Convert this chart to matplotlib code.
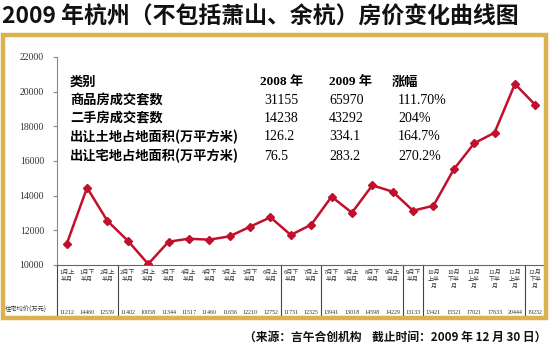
import numpy as np
import matplotlib.pyplot as plt
from matplotlib.patches import Rectangle
from matplotlib.lines import Line2D

plt.rcParams['font.family'] = ['Noto Sans CJK SC', 'DejaVu Sans']

# half-month periods of 2009
periods = ['1月上\n半月', '1月下\n半月', '2月上\n半月', '2月下\n半月', '3月上\n半月', '3月下\n半月',
           '4月上\n半月', '4月下\n半月', '5月上\n半月', '5月下\n半月', '6月上\n半月', '6月下\n半月',
           '7月上\n半月', '7月下\n半月', '8月上\n半月', '8月下\n半月', '9月上\n半月', '9月下\n半月',
           '10月\n上半\n月', '10月\n下半\n月', '11月\n上半\n月', '11月\n下半\n月', '12月\n上半\n月', '12月\n下半\n月']
prices = [11212, 14460, 12539, 11402, 10058, 11344, 11517, 11460, 11656, 12210, 12752, 11731,
          12325, 13941, 13018, 14598, 14229, 13133, 13421, 15521, 17021, 17633, 20444, 19232]
group_ends = [2, 10, 12, 16, 17, 22]   # last index of each box in the table
yticks = [10000, 12000, 14000, 16000, 18000, 20000, 22000]

# summary table in the upper left
tab_rows = ['商品房成交套数', '二手房成交套数', '出让土地占地面积(万平方米)', '出让宅地占地面积(万平方米)']
tab_2008 = ['31155', '14238', '126.2', '76.5']
tab_2009 = ['65970', '43292', '334.1', '283.2']
tab_rise = ['111.70%', '204%', '164.7%', '270.2%']

W, H = 549, 355
fig = plt.figure(figsize=(W / 100, H / 100), dpi=100)
fig.patch.set_facecolor('white')

def fx(px):
    return px / W

def fy(py):
    return 1 - py / H

# gold frame
fig.add_artist(Rectangle((fx(3), fy(318)), fx(543), 283 / H, transform=fig.transFigure,
                         fill=False, edgecolor='#dcb24e', linewidth=3.2))

fig.text(fx(2), fy(17), '2009 年杭州（不包括萧山、余杭）房价变化曲线图', fontsize=16.5,
         fontweight='bold', va='center', ha='left', color='#111111')

ax = fig.add_axes([fx(56.5), fy(265), fx(489), 208 / H])
x = np.arange(len(prices))
ax.plot(x, prices, color='#c2102c', linewidth=1.8, marker='D', markersize=4.2,
        markerfacecolor='#c2102c', markeredgecolor='#c2102c')
ax.set_xlim(-0.5, len(prices) - 0.5)
ax.set_ylim(10000, 22000)
ax.set_yticks(yticks)
ax.set_yticklabels([str(v) for v in yticks], family='Liberation Serif', fontsize=7, color='#333333')
ax.tick_params(axis='y', length=3, width=0.8, color='#888888', pad=6)
ax.set_xticks([])
for s in ['top', 'right']:
    ax.spines[s].set_visible(False)
ax.spines['left'].set_color('#888888')
ax.spines['bottom'].set_color('#666666')

# table under the axis
tr = ax.get_xaxis_transform()

def ay(py):
    return (265 - py) / 208

for i, lab in enumerate(periods):
    ax.text(x[i], ay(270), lab, transform=tr, ha='center', va='top', fontsize=4.3,
            linespacing=1.5, color='#333333', clip_on=False)
    ax.text(x[i], ay(312), str(prices[i]), transform=tr, ha='center', va='center',
            family='Liberation Serif', fontsize=4.3, color='#333333', clip_on=False)
for g in [-1] + group_ends:
    ax.add_line(Line2D([g + 0.5, g + 0.5], [ay(265), ay(317)], transform=tr,
                       color='#444444', linewidth=0.8, clip_on=False))
ax.add_line(Line2D([-0.5 - 51 / 20.4, len(prices) - 0.5], [ay(316), ay(316)], transform=tr,
                   color='#666666', linewidth=0.6, clip_on=False))
fig.text(fx(5), fy(310), '住宅均价(万元)', fontsize=4.5, va='center', ha='left', color='#333333')

# summary table
head_y = 82
row_y = [100, 118, 137, 156]
fig.text(fx(70), fy(head_y), '类别', fontsize=9.5, fontweight='bold', va='center')
fig.text(fx(260), fy(head_y), '2008 年', fontsize=9.5, family=['Liberation Serif', 'Noto Sans CJK SC'],
         fontweight='bold', va='center')
fig.text(fx(329), fy(head_y), '2009 年', fontsize=9.5, family=['Liberation Serif', 'Noto Sans CJK SC'],
         fontweight='bold', va='center')
fig.text(fx(392), fy(head_y), '涨幅', fontsize=9.5, fontweight='bold', va='center')
for i in range(len(tab_rows)):
    fig.text(fx(70), fy(row_y[i]), tab_rows[i], fontsize=9.5, fontweight='bold', va='center')
    fig.text(fx(264), fy(row_y[i]), tab_2008[i], fontsize=10, family='Liberation Serif', va='center')
    fig.text(fx(329), fy(row_y[i]), tab_2009[i], fontsize=10, family='Liberation Serif', va='center')
    fig.text(fx(398), fy(row_y[i]), tab_rise[i], fontsize=10, family='Liberation Serif', va='center')

fig.text(fx(546), fy(337), '（来源：言午合创机构    截止时间：2009 年 12 月 30 日）', fontsize=8.5,
         fontweight='bold', ha='right', va='center', color='#111111')

fig.savefig('out.png', dpi=100)
